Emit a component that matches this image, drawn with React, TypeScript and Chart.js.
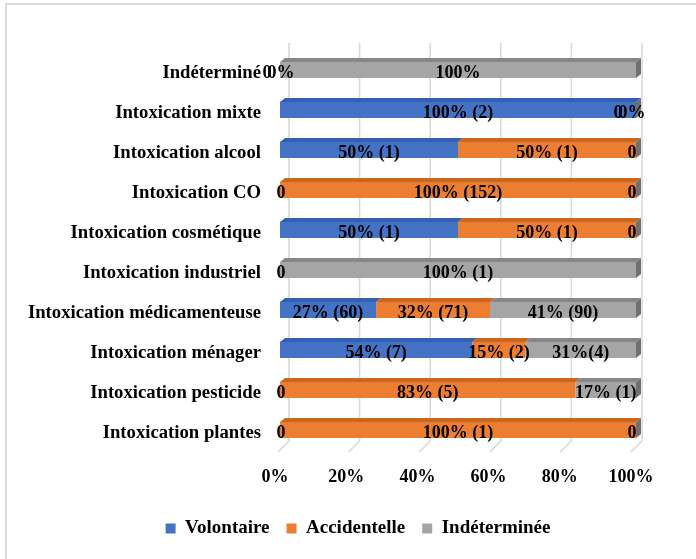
import React, { useEffect, useRef } from "react";
import { Chart, registerables } from "chart.js";

Chart.register(...registerables);

// Categories, top to bottom
const categories = [
  "Indéterminé",
  "Intoxication mixte",
  "Intoxication alcool",
  "Intoxication CO",
  "Intoxication cosmétique",
  "Intoxication industriel",
  "Intoxication médicamenteuse",
  "Intoxication ménager",
  "Intoxication pesticide",
  "Intoxication plantes",
];

// Share of each circumstance (%) per category
const volontaire = [0, 100, 50, 0, 50, 0, 27, 54, 0, 0];
const accidentelle = [0, 0, 50, 100, 50, 0, 32, 15, 83, 100];
const indeterminee = [100, 0, 0, 0, 0, 100, 41, 31, 17, 0];

// Data labels: percentage (count)
const volontaireLabels = ["0", "100% (2)", "50% (1)", "0", "50% (1)", "0", "27% (60)", "54% (7)", "0", "0"];
const accidentelleLabels = ["0%", "0", "50% (1)", "100% (152)", "50% (1)", "", "32% (71)", "15% (2)", "83% (5)", "100% (1)"];
const indetermineeLabels = ["100%", "0%", "0", "0", "0", "100% (1)", "41% (90)", "31%(4)", "17% (1)", "0"];

const xTicks = [0, 20, 40, 60, 80, 100];

const FONT = "'Liberation Serif', 'Times New Roman', serif";
const FRONT = ["#4472C4", "#ED7D31", "#A5A5A5"];
const TOP = ["#3260B4", "#C9661F", "#878787"];
const SIDE = "#707070";
const GRID = "#d9d9d9";
const DX = 5;
const DY = 4;

const framePlugin = {
  id: "frame",
  beforeDraw(chart: any) {
    const ctx = chart.ctx;
    ctx.save();
    ctx.fillStyle = GRID;
    ctx.fillRect(5, 3, 2, chart.height - 3);
    ctx.fillRect(5, 3, chart.width - 5, 2);
    ctx.restore();
  },
};

// Back-wall gridlines with a slanted foot on the floor
const wallPlugin = {
  id: "wall",
  beforeDatasetsDraw(chart: any) {
    const { ctx, chartArea } = chart;
    const xs = chart.scales.x;
    const { left, top, bottom } = chartArea;
    ctx.save();
    ctx.strokeStyle = GRID;
    ctx.lineWidth = 1.6;
    xTicks.forEach((v) => {
      const px = xs.getPixelForValue(v);
      const xb = left + 9 + (px - left) * (353 / 356);
      ctx.beginPath();
      ctx.moveTo(xb, top - 7);
      ctx.lineTo(xb, bottom - 9);
      ctx.lineTo(xb - 11, bottom + 2);
      ctx.stroke();
    });
    ctx.restore();
  },
};

// Top faces, right end caps and value labels
const depthPlugin = {
  id: "depth",
  afterDatasetsDraw(chart: any) {
    const { ctx, chartArea } = chart;
    const n = categories.length;
    ctx.save();
    for (let i = 0; i < n; i++) {
      let endX = -Infinity;
      let top = 0;
      let bottom = 0;
      chart.data.datasets.forEach((ds: any, di: number) => {
        const el = chart.getDatasetMeta(di).data[i];
        const p = el.getProps(["x", "base", "y", "height"], true);
        const x0 = Math.min(p.x, p.base);
        const x1 = Math.max(p.x, p.base);
        top = p.y - p.height / 2;
        bottom = p.y + p.height / 2;
        endX = Math.max(endX, x1);
        if (x1 - x0 > 0.5) {
          ctx.fillStyle = TOP[di];
          ctx.beginPath();
          ctx.moveTo(x0, top);
          ctx.lineTo(x1, top);
          ctx.lineTo(x1 + DX, top - DY);
          ctx.lineTo(x0 + DX, top - DY);
          ctx.closePath();
          ctx.fill();
        }
      });
      ctx.fillStyle = SIDE;
      ctx.beginPath();
      ctx.moveTo(endX, top);
      ctx.lineTo(endX + DX, top - DY);
      ctx.lineTo(endX + DX, bottom - DY);
      ctx.lineTo(endX, bottom);
      ctx.closePath();
      ctx.fill();
    }

    ctx.font = `bold 18px ${FONT}`;
    ctx.fillStyle = "#000";
    ctx.textAlign = "center";
    ctx.textBaseline = "middle";
    const labelSets = [volontaireLabels, accidentelleLabels, indetermineeLabels];
    for (let i = 0; i < n; i++) {
      const zeroGroups: Record<string, { text: string; x: number; y: number }[]> = {};
      chart.data.datasets.forEach((ds: any, di: number) => {
        const text = labelSets[di][i];
        if (!text) return;
        const el = chart.getDatasetMeta(di).data[i];
        const p = el.getProps(["x", "base", "y"], true);
        const y = p.y + 3.5;
        if (ds.data[i] === 0) {
          let x = p.x;
          if (x <= chartArea.left + 1) x += 1;
          else if (x >= chartArea.right - 1) x -= 4;
          const key = String(Math.round(p.x));
          (zeroGroups[key] = zeroGroups[key] || []).push({ text, x, y });
        } else {
          ctx.fillText(text, (p.x + p.base) / 2, y);
        }
      });
      // zero labels sharing one position fan out to the left
      Object.values(zeroGroups).forEach((g) => {
        g.forEach((l, k) => {
          ctx.fillText(l.text, l.x - 14 * (g.length - 1 - k), l.y);
        });
      });
    }
    ctx.restore();
  },
};

export default function App() {
  const ref = useRef<HTMLCanvasElement | null>(null);

  useEffect(() => {
    if (!ref.current) return;
    const chart = new Chart(ref.current, {
      type: "bar",
      data: {
        labels: categories,
        datasets: [
          { label: "Volontaire", data: volontaire, backgroundColor: FRONT[0] },
          { label: "Accidentelle", data: accidentelle, backgroundColor: FRONT[1] },
          { label: "Indéterminée", data: indeterminee, backgroundColor: FRONT[2] },
        ],
      },
      options: {
        indexAxis: "y",
        responsive: false,
        animation: false,
        barPercentage: 0.4,
        categoryPercentage: 1,
        layout: { padding: { left: 20, right: 0, top: 50, bottom: 11 } },
        scales: {
          x: {
            stacked: true,
            min: 0,
            max: 100,
            afterBuildTicks(scale: any) {
              scale.ticks = xTicks.map((v) => ({ value: v }));
            },
            afterFit(scale: any) {
              scale.height = 52;
            },
            grid: { display: false, drawTicks: false },
            border: { display: false },
            ticks: {
              padding: 17,
              labelOffset: -5,
              color: "#000",
              font: { family: FONT, size: 18, weight: "bold" },
              callback: (v: any) => `${v}%`,
            },
          },
          y: {
            stacked: true,
            afterFit(scale: any) {
              scale.width = 260;
            },
            grid: { display: false, drawTicks: false },
            border: { display: false },
            ticks: {
              padding: 19,
              labelOffset: 3,
              color: "#000",
              font: { family: FONT, size: 18.7, weight: "bold" },
            },
          },
          // empty right-hand axis reserving the space beside the bar ends
          yRight: {
            type: "category",
            position: "right",
            afterFit(scale: any) {
              scale.width = 60;
            },
            grid: { display: false, drawTicks: false },
            border: { display: false },
            ticks: { display: false },
          },
        },
        plugins: {
          legend: {
            position: "bottom",
            labels: {
              boxWidth: 10,
              boxHeight: 10,
              padding: 17,
              color: "#000",
              font: { family: FONT, size: 19, weight: "bold" },
            },
          },
          tooltip: { enabled: false },
        },
      },
      plugins: [framePlugin, wallPlugin, depthPlugin],
    } as any);
    return () => chart.destroy();
  }, []);

  return (
    <div style={{ position: "absolute", left: 0, top: 0, width: 696, height: 559, overflow: "hidden", background: "#fff" }}>
      <canvas ref={ref} width={696} height={559} />
    </div>
  );
}
